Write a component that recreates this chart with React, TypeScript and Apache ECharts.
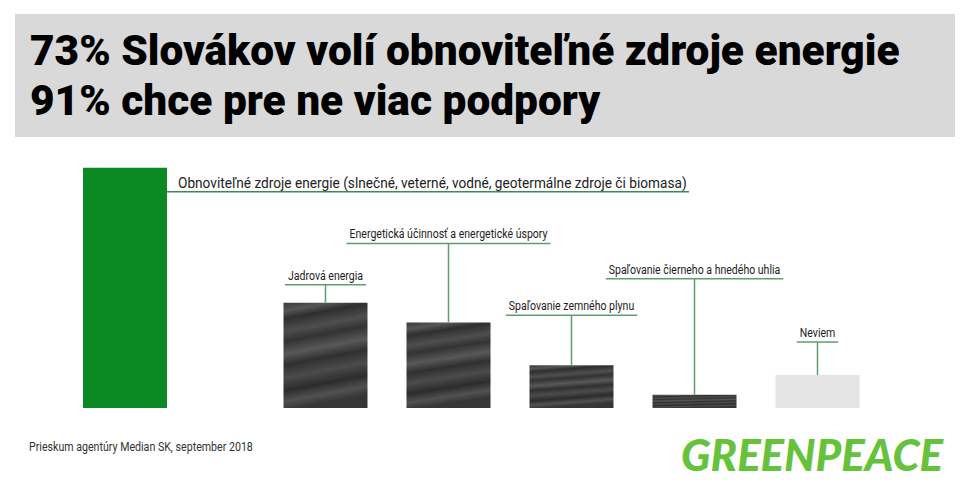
import React, { useEffect, useRef } from 'react';
import * as echarts from 'echarts';

// ---- data ----
const titleLines = ['73% Slovákov volí obnoviteľné zdroje energie', '91% chce pre ne viac podpory'];
const mainCategories = ['Obnoviteľné zdroje energie (slnečné, veterné, vodné, geotermálne zdroje či biomasa)'];
const mainValues = [73];
const otherCategories = [
  'Jadrová energia',
  'Energetická účinnosť a energetické úspory',
  'Spaľovanie zemného plynu',
  'Spaľovanie čierneho a hnedého uhlia',
  'Neviem',
];
const otherValues = [32, 26, 13, 4, 10];
const sourceNote = 'Prieskum agentúry Median SK, september 2018';
const brandName = 'GREENPEACE';

// ---- layout / style constants ----
const labelLift = [18, 79, 50, 116, 33];
const mainLabelDrop = 24;
const LINE_COLOR = '#5e9e6e';
const LABEL_FAMILY = 'Roboto';
const MAIN_LABEL_SIZE = 14;
const OTHER_LABEL_SIZE = 13;
const TITLE_FAMILY = 'Roboto';
const textureStops: [number, string][] = [
  [0, '#3a3a3a'], [0.08, '#565656'], [0.15, '#2f2f2f'], [0.27, '#4e4e4e'], [0.36, '#333333'],
  [0.48, '#585858'], [0.58, '#303030'], [0.7, '#4b4b4b'], [0.82, '#2c2c2c'], [0.92, '#515151'], [1, '#363636'],
];

const ctx = typeof document !== 'undefined' ? document.createElement('canvas').getContext('2d') : null;
function measure(text: string, font: string): number {
  if (!ctx) return text.length * 7;
  ctx.font = font;
  return ctx.measureText(text).width;
}

export default function App() {
  const ref = useRef<HTMLDivElement>(null);
  useEffect(() => {
    if (!ref.current) return;
    const chart = echarts.init(ref.current, undefined, { renderer: 'svg' });

    const mainFont = `normal ${MAIN_LABEL_SIZE}px ${LABEL_FAMILY}`;
    const mainScale = 509 / measure(mainCategories[0], mainFont);
    const otherFont = `normal ${OTHER_LABEL_SIZE}px ${LABEL_FAMILY}`;
    const otherScale = 198 / measure(otherCategories[1], otherFont);
    const titleFont = `900 42px ${TITLE_FAMILY}`;
    const titleScale = 870 / measure(titleLines[0], titleFont);
    const noteFont = `normal 12px ${LABEL_FAMILY}`;
    const noteScale = 224 / measure(sourceNote, noteFont);
    const brandFont = `italic 900 44px Lato`;
    const brandScale = 262 / measure(brandName, brandFont);

    const texture = new echarts.graphic.LinearGradient(
      0, 0, 0.15, 1,
      textureStops.map(([offset, color]) => ({ offset, color }))
    );

    const option: any = {
      animation: false,
      backgroundColor: '#ffffff',
      graphic: [
        { type: 'rect', shape: { x: 15, y: 14, width: 940, height: 123 }, style: { fill: '#d9d9d9' }, z: 0 },
        {
          type: 'text', x: 30, y: 51, scaleX: titleScale,
          style: { text: titleLines[0], fontFamily: TITLE_FAMILY, fontWeight: 900, fontSize: 42, fill: '#000', align: 'left', verticalAlign: 'middle' },
          z: 2,
        },
        {
          type: 'text', x: 30, y: 101, scaleX: titleScale,
          style: { text: titleLines[1], fontFamily: TITLE_FAMILY, fontWeight: 900, fontSize: 42, fill: '#000', align: 'left', verticalAlign: 'middle' },
          z: 2,
        },
        {
          type: 'text', x: 29, y: 447, scaleX: noteScale,
          style: { text: sourceNote, fontFamily: LABEL_FAMILY, fontSize: 12, fill: '#333', align: 'left', verticalAlign: 'middle' },
        },
        {
          type: 'text', x: 681, y: 454, scaleX: brandScale,
          style: { text: brandName, fontFamily: 'Lato', fontStyle: 'italic', fontWeight: 900, fontSize: 44, fill: '#66c23a', align: 'left', verticalAlign: 'middle' },
        },
      ],
      grid: [
        { left: 83, width: 84, top: 79, bottom: 77 },
        { left: 264, width: 615, top: 79, bottom: 77 },
      ],
      xAxis: [
        { type: 'category', gridIndex: 0, data: mainCategories, show: false },
        { type: 'category', gridIndex: 1, data: otherCategories, show: false },
      ],
      yAxis: [
        { type: 'value', gridIndex: 0, min: 0, max: 100, show: false },
        { type: 'value', gridIndex: 1, min: 0, max: 100, show: false },
      ],
      series: [
        {
          type: 'bar', xAxisIndex: 0, yAxisIndex: 0, barWidth: '100%',
          data: mainValues, itemStyle: { color: '#0b8a24' }, silent: true,
        },
        {
          type: 'bar', xAxisIndex: 1, yAxisIndex: 1, barWidth: 84,
          data: otherValues.map((v, i) => ({
            value: v,
            itemStyle: { color: i === otherValues.length - 1 ? '#e4e4e4' : texture },
          })),
          silent: true,
        },
        {
          type: 'custom', xAxisIndex: 0, yAxisIndex: 0, z: 5, silent: true,
          data: mainValues.map((v, i) => [i, v]),
          renderItem: (params: any, api: any) => {
            const i = params.dataIndex;
            const pt = api.coord([api.value(0), api.value(1)]);
            const half = api.size([1, 0])[0] / 2;
            const barRight = pt[0] + half;
            const uy = pt[1] + mainLabelDrop;
            const text = mainCategories[i];
            const w = measure(text, mainFont) * mainScale;
            const tx = barRight + 11;
            return {
              type: 'group',
              children: [
                { type: 'line', shape: { x1: barRight, y1: uy, x2: tx + w + 2, y2: uy }, style: { stroke: '#3f8a52', lineWidth: 1.5 } },
                {
                  type: 'text', x: tx, y: uy - 2, scaleX: mainScale,
                  style: { text, fontFamily: LABEL_FAMILY, fontSize: MAIN_LABEL_SIZE, fill: '#222', align: 'left', verticalAlign: 'bottom' },
                },
              ],
            };
          },
        },
        {
          type: 'custom', xAxisIndex: 1, yAxisIndex: 1, z: 5, silent: true,
          data: otherValues.map((v, i) => [i, v]),
          renderItem: (params: any, api: any) => {
            const i = params.dataIndex;
            const pt = api.coord([api.value(0), api.value(1)]);
            const cx = pt[0];
            const top = pt[1];
            const uy = top - labelLift[i];
            const text = otherCategories[i];
            const w = measure(text, otherFont) * otherScale;
            return {
              type: 'group',
              children: [
                { type: 'line', shape: { x1: cx, y1: uy, x2: cx, y2: top }, style: { stroke: LINE_COLOR, lineWidth: 1.5 } },
                { type: 'line', shape: { x1: cx - w / 2 - 3, y1: uy, x2: cx + w / 2 + 3, y2: uy }, style: { stroke: LINE_COLOR, lineWidth: 1.5 } },
                {
                  type: 'text', x: cx, y: uy - 3, scaleX: otherScale,
                  style: { text, fontFamily: LABEL_FAMILY, fontSize: OTHER_LABEL_SIZE, fill: '#222', align: 'center', verticalAlign: 'bottom' },
                },
              ],
            };
          },
        },
      ],
    };
    chart.setOption(option);
    return () => chart.dispose();
  }, []);
  return (
    <div
      ref={ref}
      style={{ position: 'absolute', left: 0, top: 0, width: 970, height: 485, background: '#fff' }}
    />
  );
}
